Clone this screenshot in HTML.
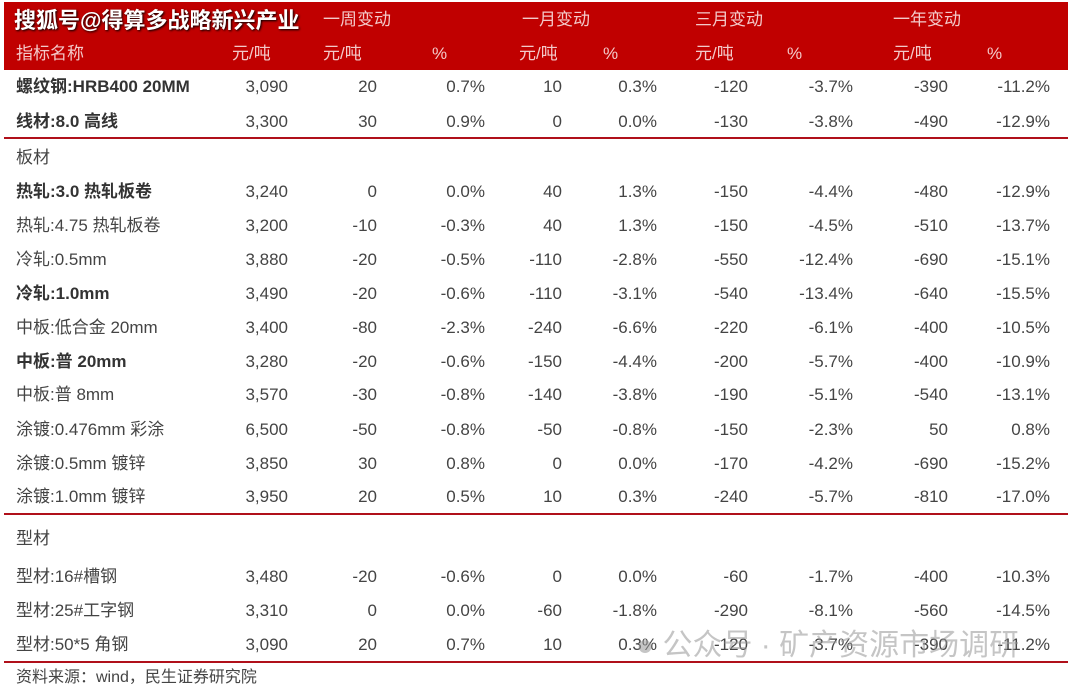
<!DOCTYPE html>
<html><head><meta charset="utf-8"><style>
body{margin:0;width:1080px;height:692px;background:#fff;position:relative;overflow:hidden;font-family:"Liberation Sans","Noto Sans CJK SC",sans-serif;color:#444;font-size:17px}
.hd{position:absolute;left:4px;top:2px;width:1064px;height:68px;background:#c00000}
.t{position:absolute;white-space:nowrap;line-height:20px}
.w{color:#f3c9c9;font-size:17px}
.n{position:absolute;width:100px;text-align:right;white-space:nowrap}
.row{position:absolute;left:0;width:1080px;height:20px;line-height:20px}
.b{font-weight:bold;color:#333}
.ln{position:absolute;left:4px;width:1064px;height:2px;background:#b0101a}
</style></head><body>
<div class="hd"></div>
<div class="t" style="left:14px;top:8px;font-size:22px;font-weight:bold;color:#fff;text-shadow:1px 1px 2px #000;line-height:26px">搜狐号@得算多战略新兴产业</div>
<div class="t w" style="left:323px;top:10px">一周变动</div>
<div class="t w" style="left:522px;top:10px">一月变动</div>
<div class="t w" style="left:695px;top:10px">三月变动</div>
<div class="t w" style="left:893px;top:10px">一年变动</div>
<div class="t w" style="left:16px;top:44px">指标名称</div>
<div class="t w" style="left:232px;top:44px">元/吨</div>
<div class="t w" style="left:323px;top:44px">元/吨</div>
<div class="t w" style="left:432px;top:44px">%</div>
<div class="t w" style="left:519px;top:44px">元/吨</div>
<div class="t w" style="left:603px;top:44px">%</div>
<div class="t w" style="left:695px;top:44px">元/吨</div>
<div class="t w" style="left:787px;top:44px">%</div>
<div class="t w" style="left:893px;top:44px">元/吨</div>
<div class="t w" style="left:987px;top:44px">%</div>

<div class="ln" style="top:137px"></div>
<div class="ln" style="top:513px"></div>
<div class="ln" style="top:661px"></div>

<div id="rows"></div>
<div class="t" style="left:16px;top:148px">板材</div>
<div class="t" style="left:16px;top:529px">型材</div>
<div class="t" style="left:16px;top:668px;font-size:16px">资料来源：wind，民生证券研究院</div>
<div class="t" style="left:636px;top:629px;font-size:30px;color:rgba(150,150,150,0.55);line-height:34px">● 公众号 · 矿产资源市场调研</div>

<script>
var E=[288,377,485,562,657,748,853,948,1050];
var R=[
[77,1,"螺纹钢:HRB400 20MM","3,090","20","0.7%","10","0.3%","-120","-3.7%","-390","-11.2%"],
[112,1,"线材:8.0 高线","3,300","30","0.9%","0","0.0%","-130","-3.8%","-490","-12.9%"],
[182,1,"热轧:3.0 热轧板卷","3,240","0","0.0%","40","1.3%","-150","-4.4%","-480","-12.9%"],
[216,0,"热轧:4.75 热轧板卷","3,200","-10","-0.3%","40","1.3%","-150","-4.5%","-510","-13.7%"],
[250,0,"冷轧:0.5mm","3,880","-20","-0.5%","-110","-2.8%","-550","-12.4%","-690","-15.1%"],
[284,1,"冷轧:1.0mm","3,490","-20","-0.6%","-110","-3.1%","-540","-13.4%","-640","-15.5%"],
[318,0,"中板:低合金 20mm","3,400","-80","-2.3%","-240","-6.6%","-220","-6.1%","-400","-10.5%"],
[352,1,"中板:普 20mm","3,280","-20","-0.6%","-150","-4.4%","-200","-5.7%","-400","-10.9%"],
[385,0,"中板:普 8mm","3,570","-30","-0.8%","-140","-3.8%","-190","-5.1%","-540","-13.1%"],
[420,0,"涂镀:0.476mm 彩涂","6,500","-50","-0.8%","-50","-0.8%","-150","-2.3%","50","0.8%"],
[454,0,"涂镀:0.5mm 镀锌","3,850","30","0.8%","0","0.0%","-170","-4.2%","-690","-15.2%"],
[487,0,"涂镀:1.0mm 镀锌","3,950","20","0.5%","10","0.3%","-240","-5.7%","-810","-17.0%"],
[567,0,"型材:16#槽钢","3,480","-20","-0.6%","0","0.0%","-60","-1.7%","-400","-10.3%"],
[601,0,"型材:25#工字钢","3,310","0","0.0%","-60","-1.8%","-290","-8.1%","-560","-14.5%"],
[635,0,"型材:50*5 角钢","3,090","20","0.7%","10","0.3%","-120","-3.7%","-390","-11.2%"]];
var h="";
R.forEach(function(r){
h+='<div class="row" style="top:'+r[0]+'px"><span class="t'+(r[1]?' b':'')+'" style="left:16px">'+r[2]+'</span>';
for(var i=0;i<9;i++){h+='<span class="n" style="left:'+(E[i]-100)+'px">'+r[3+i]+'</span>';}
h+='</div>';});
document.getElementById("rows").innerHTML=h;
</script>
</body></html>
